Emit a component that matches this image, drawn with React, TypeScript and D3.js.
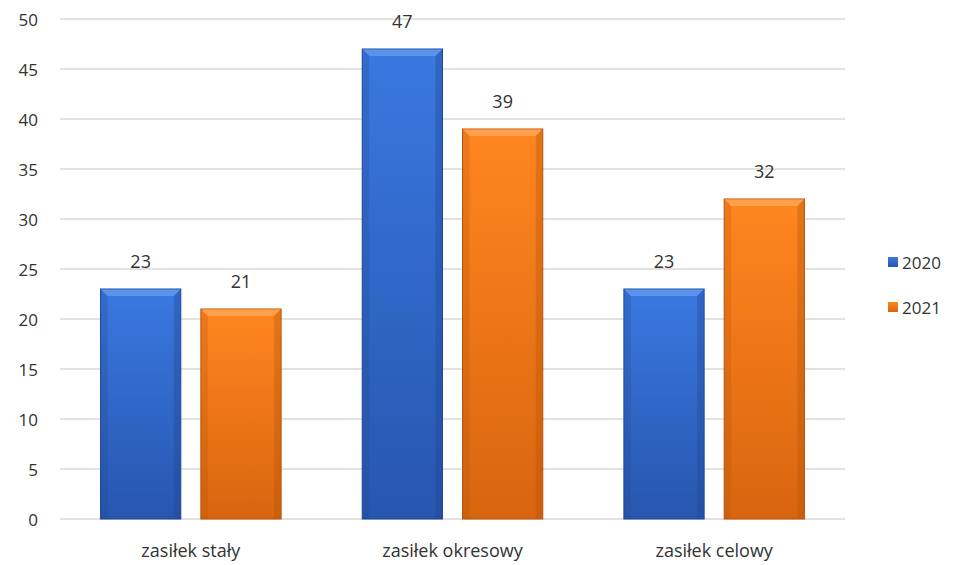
import * as d3 from "d3";

const categories = ["zasiłek stały", "zasiłek okresowy", "zasiłek celowy"];
const seriesNames = ["2020", "2021"];
const values2020 = [23, 47, 23];
const values2021 = [21, 39, 32];
const yTicks = [0, 5, 10, 15, 20, 25, 30, 35, 40, 45, 50];

const WIDTH = 962;
const HEIGHT = 565;
const PLOT = { left: 60, right: 845, top: 19, bottom: 519 };
const FONT = "'Open Sans', 'Liberation Sans', sans-serif";

const palette = [
  { top: "#3a78e0", bottom: "#2756ae", bevel: "#5a93ec", edge: "#1f4690" },
  { top: "#ff8620", bottom: "#d8650f", bevel: "#ffa04a", edge: "#b4520a" },
];

export default function App() {
  const x0 = d3.scaleBand().domain(categories).range([PLOT.left, PLOT.right]).paddingInner(0.31).paddingOuter(0.155);
  const x1 = d3.scaleBand().domain(seriesNames).range([0, x0.bandwidth()]).paddingInner(0.2);
  const y = d3.scaleLinear().domain([0, 50]).range([PLOT.bottom, PLOT.top]);
  const series = [values2020, values2021];

  return (
    <svg width={WIDTH} height={HEIGHT} style={{ position: "absolute", left: 0, top: 0, background: "#fff" }}>
      <defs>
        {palette.map((p, i) => (
          <linearGradient key={i} id={`g${i}`} x1="0" y1="0" x2="0" y2="1">
            <stop offset="0%" stopColor={p.top} />
            <stop offset="100%" stopColor={p.bottom} />
          </linearGradient>
        ))}
      </defs>
      {yTicks.map((t) => (
        <g key={t}>
          <line x1={PLOT.left} x2={PLOT.right} y1={y(t)} y2={y(t)} stroke="#d9d9d9" strokeWidth={1.5} />
          <text x={38} y={y(t)} textAnchor="end" dominantBaseline="central" fontFamily={FONT} fontSize={17} fill="#333">
            {t}
          </text>
        </g>
      ))}
      {categories.map((c, ci) => (
        <g key={c} transform={`translate(${x0(c)},0)`}>
          {seriesNames.map((s, si) => {
            const v = series[si][ci];
            const bx = x1(s)!;
            const bw = x1.bandwidth();
            const top = y(v);
            const h = y(0) - top;
            const p = palette[si];
            const b = 7;
            return (
              <g key={s}>
                <rect x={bx} y={top} width={bw} height={h} fill={`url(#g${si})`} stroke={p.edge} strokeWidth={1} />
                <polygon
                  points={`${bx + 0.5},${top + 0.5} ${bx + bw - 0.5},${top + 0.5} ${bx + bw - b},${top + b} ${bx + b},${top + b}`}
                  fill={p.bevel}
                />
                <polygon
                  points={`${bx + 0.5},${top + 0.5} ${bx + b},${top + b} ${bx + b},${top + h - 0.5} ${bx + 0.5},${top + h - 0.5}`}
                  fill={p.edge}
                  opacity={0.25}
                />
                <polygon
                  points={`${bx + bw - 0.5},${top + 0.5} ${bx + bw - b},${top + b} ${bx + bw - b},${top + h - 0.5} ${bx + bw - 0.5},${top + h - 0.5}`}
                  fill={p.edge}
                  opacity={0.35}
                />
                <text x={bx + bw / 2} y={top - 21} textAnchor="middle" fontFamily={FONT} fontSize={18} fill="#333">
                  {v}
                </text>
              </g>
            );
          })}
          <text x={x0.bandwidth() / 2} y={557} textAnchor="middle" fontFamily={FONT} fontSize={18} fill="#333">
            {c}
          </text>
        </g>
      ))}
      {seriesNames.map((s, si) => (
        <g key={s} transform={`translate(888,${262 + si * 45})`}>
          <rect x={0} y={-5} width={10} height={10} fill={`url(#g${si})`} />
          <text x={14} y={0} dominantBaseline="central" fontFamily={FONT} fontSize={17} fill="#333">
            {s}
          </text>
        </g>
      ))}
    </svg>
  );
}
